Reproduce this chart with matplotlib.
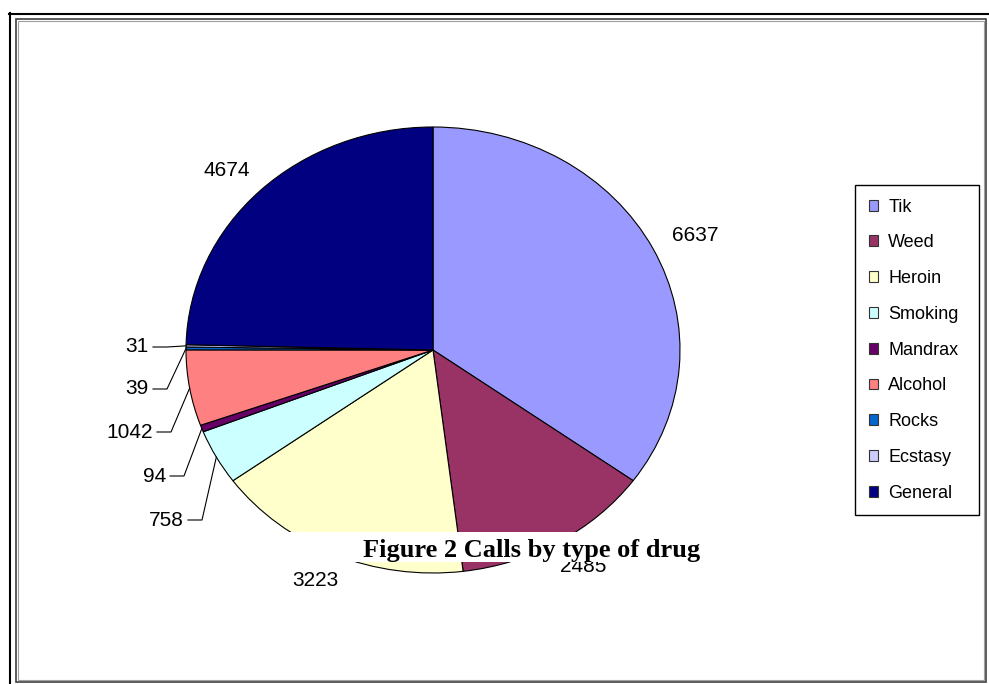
import numpy as np
import matplotlib.pyplot as plt
from matplotlib.patches import Patch, Rectangle
from matplotlib.lines import Line2D
from matplotlib.transforms import IdentityTransform

# data
drugs = ['Tik', 'Weed', 'Heroin', 'Smoking', 'Mandrax', 'Alcohol', 'Rocks', 'Ecstasy', 'General']
calls = [6637, 2485, 3223, 758, 94, 1042, 39, 31, 4674]
colours = ['#9999FF', '#993366', '#FFFFCC', '#CCFFFF', '#660066',
           '#FF8080', '#0066CC', '#CCCCFF', '#000080']
caption = 'Figure 2 Calls by type of drug'

# slices labelled in a column on the left with leader lines
# (pixel position of right end of label text, from top left of picture)
leader_labels = {'Ecstasy': (149, 347), 'Rocks': (149, 389), 'Alcohol': (153, 432),
                 'Mandrax': (166, 476), 'Smoking': (184, 520)}

W, H = 989, 684

plt.rcParams['font.family'] = ['Liberation Sans', 'DejaVu Sans']
fig = plt.figure(figsize=(W / 100, H / 100), dpi=100)

# pie axes, a bit wider than tall like the original
ax = fig.add_axes([186 / W, 1 - 573 / H, 494 / W, 446 / H])
wedges, _ = ax.pie(calls, colors=colours, startangle=90, counterclock=False,
                   wedgeprops=dict(edgecolor='black', linewidth=0.8, clip_on=False))
ax.set_xlim(-1, 1)
ax.set_ylim(-1, 1)
ax.set_aspect('auto')
ax.axis('off')

# value labels for the big slices, pushed out from the rim (px offsets)
for w, name, v in zip(wedges, drugs, calls):
    if name in leader_labels:
        continue
    mid = np.deg2rad((w.theta1 + w.theta2) / 2)
    ex, ey = ax.transData.transform((np.cos(mid), np.sin(mid)))
    fig.text((ex + 48 * np.cos(mid)) / W, (ey + 28 * np.sin(mid)) / H, str(v),
             ha='center', va='center', fontsize=15)

# small slices: label column + leader line
for w, name, v in zip(wedges, drugs, calls):
    if name not in leader_labels:
        continue
    tx, ty = leader_labels[name]
    fig.text(tx / W, 1 - ty / H, str(v), ha='right', va='center', fontsize=15)
    mid = np.deg2rad((w.theta1 + w.theta2) / 2)
    ex, ey = ax.transData.transform((np.cos(mid), np.sin(mid)))
    xs = [tx + 4, tx + 18, ex]
    ys = [H - ty, H - ty, ey]
    fig.add_artist(Line2D(xs, ys, transform=IdentityTransform(), color='black', lw=0.8))

# legend
handles = [Patch(facecolor=c, edgecolor='#333333', linewidth=0.8) for c in colours]
leg = fig.legend(handles, drugs, loc='upper left',
                 bbox_to_anchor=(855 / W, 1 - 510 / H, 124 / W, 325 / H), mode='expand',
                 fontsize=13, fancybox=False, shadow=False, framealpha=1, edgecolor='black',
                 borderpad=0.75, labelspacing=1.04, handlelength=0.55, handleheight=0.55,
                 handletextpad=0.55, borderaxespad=0)
leg.get_frame().set_linewidth(1.0)

# white band with the caption over the bottom of the pie
fig.add_artist(Rectangle((270 / W, 1 - 562 / H), 460 / W, 30 / H, transform=fig.transFigure,
                         facecolor='white', edgecolor='none', zorder=5))
fig.text(532 / W, 1 - 557 / H, caption, family='Liberation Serif', weight='bold',
         fontsize=19, ha='center', va='baseline', zorder=6)

# page frames
fig.add_artist(Line2D([10, 10], [H - 13, 0], transform=IdentityTransform(), color='black', lw=1.5))
fig.add_artist(Line2D([9, W], [H - 14, H - 14], transform=IdentityTransform(), color='black', lw=1.5))
fig.add_artist(Rectangle((16, H - 682), 970, 663, transform=IdentityTransform(),
                         facecolor='none', edgecolor='#404040', lw=1.2))
fig.add_artist(Rectangle((18, H - 680), 966, 659, transform=IdentityTransform(),
                         facecolor='none', edgecolor='#a0a0a0', lw=0.8))

fig.savefig('out.png', dpi=100)
